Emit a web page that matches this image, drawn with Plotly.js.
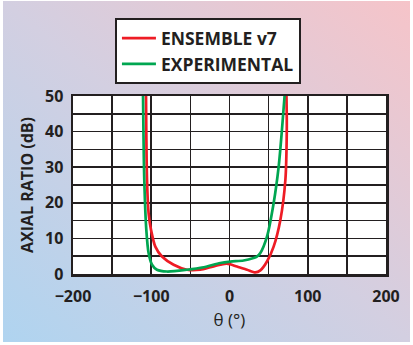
<!DOCTYPE html>
<html>
<head>
<meta charset="utf-8">
<script src="https://cdn.plot.ly/plotly-3.0.1.min.js"></script>
<style>
  html, body { margin: 0; padding: 0; background: #ffffff; }
  #wrap { position: absolute; left: 3px; top: 1px; width: 407px; height: 341px;
          background: linear-gradient(to top right, #afd4f0 0%, #d3cfe1 50%, #f6c4c9 100%); }
  #chart { position: absolute; left: 0; top: 0; width: 413px; height: 345px; }
</style>
</head>
<body>
<div id="wrap"></div>
<div id="chart"></div>
<script>
// Data
const seriesNames = ["ENSEMBLE v7", "EXPERIMENTAL"];
const ensembleTheta = [-106.7, -105.4, -103.4, -100.3, -94.8, -86.3, -71.4, -54.3, -37.3, -24.5, -11.8, -3.3, 9.5, 22.4, 33, 39.4, 47.9, 56.4, 65, 71.4, 73.2, 72.8];
const ensembleAR    = [50, 26.4, 17.1, 12.4, 7.7, 4.9, 2.6, 1.2, 1.2, 1.9, 2.6, 2.9, 2.1, 1.2, 0.45, 1.0, 3.5, 7.7, 15.2, 26.4, 40.4, 50];
const expTheta = [-110.5, -108.9, -106.3, -103.4, -99, -92.7, -80, -54.3, -33, -11.8, 1, 18, 30.7, 35, 39.4, 47.9, 56.4, 62.8, 67, 70.4];
const expAR    = [50, 26.4, 12.4, 5.9, 2.6, 1.2, 0.7, 1.2, 1.9, 3.1, 3.5, 3.8, 4.5, 4.9, 5.9, 10.5, 19.9, 30.1, 40.4, 50];
const xTickVals = [-200, -150, -100, -50, 0, 50, 100, 150, 200];
const xTickText = ["\u2212200", "", "\u2212100", "", "0", "", "100", "", "200"];
const yTickVals = [0, 5, 10, 15, 20, 25, 30, 35, 40, 45, 50];
const yTickText = ["0", "", "10", "", "20", "", "30", "", "40", "", "50"];

const ink = "#231f20";
const fontFam = "'Open Sans', 'DejaVu Sans', sans-serif";

const traces = [
  { x: ensembleTheta, y: ensembleAR, name: seriesNames[0], mode: "lines",
    line: { color: "#ee1c25", width: 2.7, shape: "spline", smoothing: 0.8 } },
  { x: expTheta, y: expAR, name: seriesNames[1], mode: "lines",
    line: { color: "#00a651", width: 2.7, shape: "spline", smoothing: 0.8 } }
];

const layout = {
  width: 413, height: 345,
  margin: { l: 73, r: 27, t: 96, b: 71 },
  paper_bgcolor: "rgba(0,0,0,0)",
  plot_bgcolor: "#ffffff",
  showlegend: true,
  legend: {
    x: 0.134, y: 1.437, xanchor: "left", yanchor: "top",
    bgcolor: "#ffffff", bordercolor: ink, borderwidth: 2,
    font: { family: fontFam, size: 17.5, color: ink, weight: "bold" },
    itemwidth: 34
  },
  xaxis: {
    range: [-200, 200], tickmode: "array", tickvals: xTickVals, ticktext: xTickText,
    showgrid: true, gridcolor: ink, gridwidth: 1.6, zeroline: false,
    showline: true, linecolor: ink, linewidth: 2.5, mirror: true,
    ticks: "", ticklabelstandoff: 6,
    tickfont: { family: fontFam, size: 16, color: ink, weight: "bold" },
    title: { text: "\u03b8 (\u00b0)", standoff: 9,
             font: { family: fontFam, size: 17, color: ink } },
    fixedrange: true
  },
  yaxis: {
    range: [0, 50], tickmode: "array", tickvals: yTickVals, ticktext: yTickText,
    showgrid: true, gridcolor: ink, gridwidth: 1.6, zeroline: false,
    showline: true, linecolor: ink, linewidth: 2.5, mirror: true,
    ticks: "", ticklabelstandoff: 4,
    tickfont: { family: fontFam, size: 16, color: ink, weight: "bold" },
    title: { text: "AXIAL RATIO (dB)", standoff: 8,
             font: { family: fontFam, size: 16, color: ink, weight: "bold" } },
    fixedrange: true
  }
};

Plotly.newPlot("chart", traces, layout, { displayModeBar: false, staticPlot: true });
</script>
</body>
</html>
